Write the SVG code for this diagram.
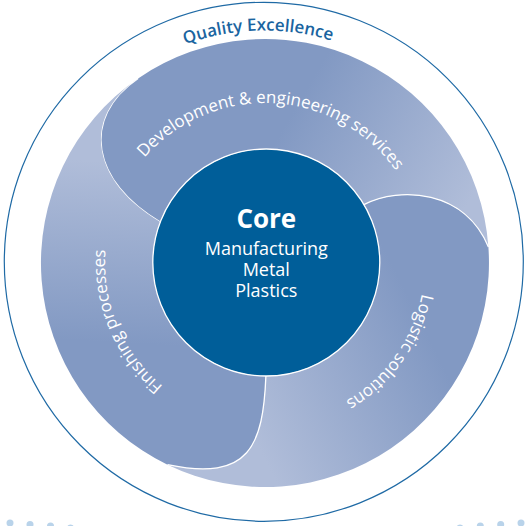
<svg xmlns="http://www.w3.org/2000/svg" width="527" height="526" viewBox="0 0 527 526">
  <style>
    .label { font-family: "Open Sans", "Noto Sans", "Liberation Sans", sans-serif; }
    .blade-text { fill: #ffffff; font-size: 17px; }
    .edge { fill: none; stroke: #ffffff; stroke-width: 1.3; }
    .dot { fill: #b9d3ea; }
    .core-sub { fill: #ffffff; font-size: 18px; text-anchor: middle; }
  </style>
  <defs>
    <!-- each blade is darkest at its head and fades towards its tail -->
    <linearGradient id="gradDev" gradientUnits="userSpaceOnUse" x1="300" y1="100" x2="470" y2="200">
      <stop offset="0" stop-color="#8299c3"/>
      <stop offset="1" stop-color="#b0bdd9"/>
    </linearGradient>
    <linearGradient id="gradLog" gradientUnits="userSpaceOnUse" x1="440" y1="360" x2="260" y2="450">
      <stop offset="0" stop-color="#8299c3"/>
      <stop offset="1" stop-color="#b0bdd9"/>
    </linearGradient>
    <linearGradient id="gradFin" gradientUnits="userSpaceOnUse" x1="70" y1="340" x2="80" y2="160">
      <stop offset="0" stop-color="#8299c3"/>
      <stop offset="1" stop-color="#b0bdd9"/>
    </linearGradient>
    <!-- clockwise circles used as text baselines -->
    <path id="ringPath" d="M425,263 A160,160 0 1 1 105,263 A160,160 0 1 1 425,263"/>
    <path id="qualityPath" d="M495.5,262 A231.5,231.5 0 1 1 32.5,262 A231.5,231.5 0 1 1 495.5,262"/>
  </defs>

  <rect width="527" height="526" fill="#ffffff"/>

  <!-- outer ring with its caption -->
  <g id="quality-excellence">
    <circle cx="263.8" cy="261.8" r="259.5" fill="none" stroke="#1f6aa5" stroke-width="1.2"/>
    <text class="label" font-size="17" font-weight="600" fill="#1a64a0" text-anchor="middle">
      <textPath href="#qualityPath" startOffset="1084.5">Quality Excellence</textPath>
    </text>
  </g>

  <!-- blade: development -->
  <g id="development">
    <path fill="url(#gradDev)" d="M160.3,222 C92,182 80,118 138.1,78.4 A224,224 0 0 1 488.4,247 C465,190 400,186 363.9,204.6 A113.5,113.5 0 0 0 160.3,222 Z"/>
    <path class="edge" d="M160.3,222 C92,182 80,118 138.1,78.4"/>
    <text class="label blade-text" text-anchor="middle">
      <textPath href="#ringPath" startOffset="761.8">Development &amp; engineering services</textPath>
    </text>
  </g>

  <!-- blade: logistics -->
  <g id="logistics">
    <path fill="url(#gradLog)" d="M363.9,204.6 C400,186 465,190 488.4,247 A224,224 0 0 1 167.5,464.7 C250,482 263,445 265.9,376 A113.5,113.5 0 0 0 363.9,204.6 Z"/>
    <path class="edge" d="M363.9,204.6 C400,186 465,190 488.4,247"/>
    <text class="label blade-text" text-anchor="middle">
      <textPath href="#ringPath" startOffset="98.9">Logistic solutions</textPath>
    </text>
  </g>

  <!-- blade: finishing -->
  <g id="finishing">
    <path fill="url(#gradFin)" d="M265.9,376 C263,445 250,482 167.5,464.7 A224,224 0 0 1 138.1,78.4 C80,118 92,182 160.3,222 A113.5,113.5 0 0 0 265.9,376 Z"/>
    <path class="edge" d="M265.9,376 C263,445 250,482 167.5,464.7"/>
    <text class="label blade-text" text-anchor="middle">
      <textPath href="#ringPath" startOffset="438.7">Finishing processes</textPath>
    </text>
  </g>

  <!-- centre disc -->
  <g id="core">
    <circle cx="266.3" cy="262.5" r="113.5" fill="#005e99" stroke="#ffffff" stroke-width="1.3"/>
    <text class="label" x="266.3" y="228.3" font-size="26" font-weight="700" fill="#ffffff" text-anchor="middle">Core</text>
    <text class="label core-sub" x="266.3" y="255">Manufacturing</text>
    <text class="label core-sub" x="266.3" y="275.7">Metal</text>
    <text class="label core-sub" x="266.3" y="296.7">Plastics</text>
  </g>

  <g id="connectors"/>

  <!-- dotted trim along the bottom edge -->
  <g id="trim-dots">
    <circle class="dot" cx="10" cy="523" r="3.5"/>
    <circle class="dot" cx="30" cy="524.5" r="3.5"/>
    <circle class="dot" cx="50.5" cy="526" r="3.5"/>
    <circle class="dot" cx="70.5" cy="528" r="3.5"/>
    <circle class="dot" cx="521" cy="523" r="3.5"/>
    <circle class="dot" cx="500.7" cy="524.5" r="3.5"/>
    <circle class="dot" cx="480.3" cy="526" r="3.5"/>
    <circle class="dot" cx="460" cy="528" r="3.5"/>
  </g>
</svg>
